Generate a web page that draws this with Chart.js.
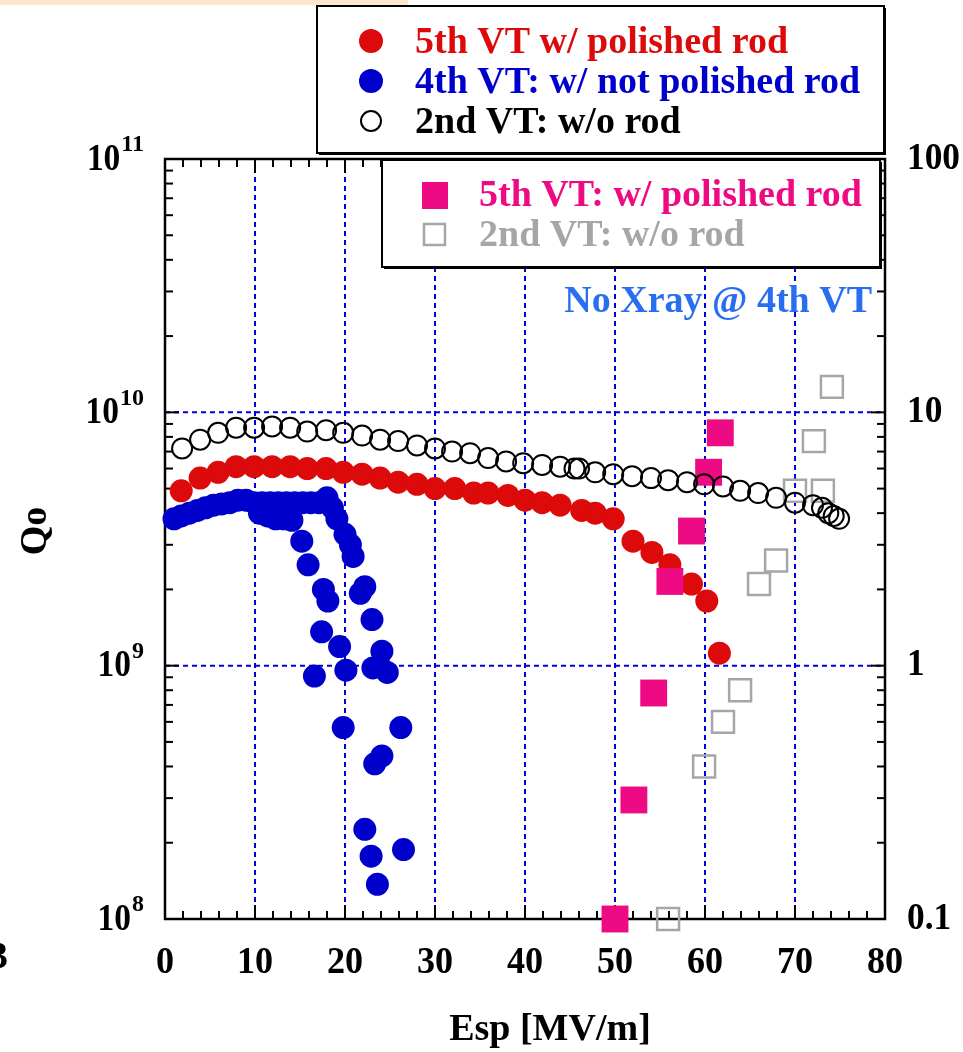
<!DOCTYPE html>
<html>
<head>
<meta charset="utf-8">
<script src="https://cdn.jsdelivr.net/npm/chart.js@4.4.1/dist/chart.umd.min.js"></script>
<style>
  html, body { margin: 0; padding: 0; background: #fff; }
  #wrap { position: relative; width: 963px; height: 1052px; }
</style>
</head>
<body>
<div id="wrap"><canvas id="chart"></canvas></div>
<script>
// values (Q0 in units of 1e9)
const vt5Esp = [1.8, 3.9, 5.9, 7.9, 9.9, 11.9, 13.9, 15.8, 17.9, 19.8, 21.9, 23.9, 25.9, 28.0, 30.0,
  32.2, 34.3, 35.9, 38.1, 40.0, 41.9, 43.9, 46.3, 47.8, 49.8, 52.0, 54.1, 56.1, 58.5, 60.2, 61.6];
const vt5Q = [4.9, 5.5, 5.8, 6.1, 6.1, 6.1, 6.1, 6.0, 6.0, 5.8, 5.7, 5.5, 5.3, 5.2, 5.0,
  5.0, 4.8, 4.8, 4.7, 4.5, 4.4, 4.3, 4.1, 4.0, 3.8, 3.1, 2.8, 2.5, 2.1, 1.8, 1.12];

const vt4Esp = [1.0, 1.8, 2.7, 3.6, 4.5, 5.4, 6.3, 7.2, 8.1, 9.0, 9.9, 10.8, 11.7, 12.6, 13.5, 14.4, 15.3, 16.2, 17.1, 18.0,
  10.5, 11.4, 12.3, 13.2, 14.1,
  15.2, 15.9, 17.6, 18.1, 17.4, 19.4, 16.6, 20.1, 19.8,
  18.6, 19.1, 20.0, 20.6, 20.9, 22.2, 21.7, 23.0, 24.1, 23.9, 24.7, 23.1, 26.2, 24.1, 23.3, 22.2, 22.9, 26.5, 23.6];
const vt4Q = [3.8, 3.9, 4.0, 4.1, 4.2, 4.3, 4.35, 4.4, 4.5, 4.5, 4.4, 4.4, 4.4, 4.4, 4.4, 4.4, 4.4, 4.4, 4.4, 4.6,
  4.0, 3.9, 3.8, 3.8, 3.75,
  3.1, 2.5, 2.0, 1.8, 1.36, 1.19, 0.91, 0.96, 0.57,
  4.2, 3.8, 3.3, 3.0, 2.7, 2.05, 1.93, 1.52, 1.14, 0.99, 0.94, 0.98, 0.57, 0.44, 0.41, 0.226, 0.177, 0.188, 0.137];

const vt2Esp = [1.9, 3.9, 5.9, 7.9, 9.9, 11.9, 13.9, 15.8, 17.9, 19.8, 21.9, 23.9, 25.9, 28.0, 30.0,
  31.9, 33.9, 35.9, 37.9, 39.8, 41.9, 43.9, 45.5, 46.0, 47.8, 49.8, 51.9, 54.0, 55.9, 58.0, 59.9,
  62.0, 63.9, 65.9, 67.9, 70.0, 72.0, 73.0, 73.7, 74.3, 74.9];
const vt2Q = [7.2, 7.8, 8.3, 8.7, 8.7, 8.8, 8.7, 8.4, 8.5, 8.3, 8.1, 7.8, 7.7, 7.4, 7.2,
  7.0, 6.9, 6.6, 6.4, 6.3, 6.2, 6.1, 6.0, 6.0, 5.8, 5.7, 5.6, 5.5, 5.4, 5.3, 5.2,
  5.1, 4.9, 4.8, 4.6, 4.4, 4.3, 4.2, 4.0, 3.9, 3.8];

// right axis series
const xr5Esp = [50.0, 52.1, 54.3, 56.1, 58.5, 60.4, 61.7];
const xr5Val = [0.1, 0.295, 0.78, 2.15, 3.4, 5.8, 8.3];
const xr2Esp = [55.9, 59.9, 62.0, 63.9, 66.0, 67.9, 70.0, 73.1, 72.1, 74.1];
const xr2Val = [0.1, 0.4, 0.6, 0.8, 2.1, 2.6, 4.9, 4.9, 7.7, 12.6];

const xTicks = [0, 10, 20, 30, 40, 50, 60, 70, 80];
const leftExps = [8, 9, 10, 11];
const rightTicks = ['0.1', '1', '10', '100'];
const gridX = [10, 20, 30, 40, 50, 60, 70];
const gridQ = [1e9, 1e10];

const RED = '#dc0a0a';
const BLUE = '#0000cc';
const PINK = '#ee0a82';
const GREY = '#a6a6a6';
const SERIF = '"Liberation Serif", "Times New Roman", serif';

function pts(xs, ys, k) {
  return xs.map((x, i) => ({ x: x, y: ys[i] * k }));
}

function txt(ctx, s, x, y, size, color, align, sx) {
  ctx.save();
  ctx.font = 'bold ' + size + 'px ' + SERIF;
  ctx.fillStyle = color;
  ctx.textAlign = align;
  ctx.textBaseline = 'middle';
  ctx.translate(x, y);
  ctx.scale(sx || 1, 1);
  ctx.fillText(s, 0, 0);
  ctx.restore();
}

function seg(ctx, x1, y1, x2, y2) {
  ctx.beginPath();
  ctx.moveTo(x1, y1);
  ctx.lineTo(x2, y2);
  ctx.stroke();
}

function box(ctx, x, y, w, h) {
  ctx.fillStyle = '#000';
  ctx.fillRect(x + 2, y + 2, w, h);
  ctx.fillStyle = '#fff';
  ctx.fillRect(x, y, w, h);
  ctx.strokeStyle = '#000';
  ctx.lineWidth = 2;
  ctx.strokeRect(x, y, w, h);
}

const decor = {
  id: 'decor',
  beforeDraw(chart) {
    const ctx = chart.ctx;
    ctx.save();
    ctx.fillStyle = '#fde6cc';
    ctx.fillRect(0, 0, 408, 5);
    ctx.restore();
  },
  beforeDatasetsDraw(chart) {
    const { ctx, chartArea: a, scales } = chart;
    const sx = scales.x, sy = scales.y, sy2 = scales.y2;
    ctx.save();
    ctx.strokeStyle = '#0000dd';
    ctx.lineWidth = 2;
    ctx.setLineDash([5, 4]);
    gridX.forEach(v => { const p = sx.getPixelForValue(v); seg(ctx, p, a.top, p, a.bottom); });
    gridQ.forEach(v => { const p = sy.getPixelForValue(v); seg(ctx, a.left, p, a.right, p); });
    ctx.setLineDash([]);

    ctx.strokeStyle = '#000';
    ctx.lineWidth = 2;
    // x ticks, top and bottom, every 2 units
    for (let v = 0; v <= 80; v += 2) {
      const p = sx.getPixelForValue(v);
      const len = v % 10 === 0 ? 14 : 8;
      seg(ctx, p, a.bottom, p, a.bottom - len);
      seg(ctx, p, a.top, p, a.top + len);
    }
    // log ticks, left and right
    for (let e = 8; e <= 11; e++) {
      for (let k = 1; k <= 9; k++) {
        const v = k * Math.pow(10, e);
        if (v > 1e11) break;
        const p = sy.getPixelForValue(v);
        const len = k === 1 ? 14 : 8;
        seg(ctx, a.left, p, a.left + len, p);
      }
    }
    for (let e = -1; e <= 2; e++) {
      for (let k = 1; k <= 9; k++) {
        const v = k * Math.pow(10, e);
        if (v > 100.0001) break;
        const p = sy2.getPixelForValue(v);
        const len = k === 1 ? 14 : 8;
        seg(ctx, a.right, p, a.right - len, p);
      }
    }
    ctx.lineWidth = 2.5;
    ctx.strokeRect(a.left, a.top, a.right - a.left, a.bottom - a.top);
    ctx.restore();
  },
  afterDatasetsDraw(chart) {
    const { ctx, chartArea: a, scales } = chart;
    const sx = scales.x, sy = scales.y, sy2 = scales.y2;
    ctx.save();
    // tick labels
    xTicks.forEach(v => txt(ctx, String(v), sx.getPixelForValue(v), 963, 38, '#000', 'center', 0.95));
    leftExps.forEach(e => {
      const p = sy.getPixelForValue(Math.pow(10, e));
      ctx.font = 'bold 24px ' + SERIF;
      const w = ctx.measureText(String(e)).width;
      txt(ctx, String(e), 144, p - 14, 24, '#000', 'right', 1);
      txt(ctx, '10', 144 - w - 1, p + 1, 38, '#000', 'right', 0.88);
    });
    rightTicks.forEach(t => txt(ctx, t, 907, sy2.getPixelForValue(parseFloat(t)), 38, '#000', 'left', 0.93));
    txt(ctx, '3', 8, 958, 38, '#000', 'right', 1);

    // axis titles
    txt(ctx, 'Esp [MV/m]', 550, 1030, 38, '#000', 'center', 1);
    ctx.save();
    ctx.translate(36, 531);
    ctx.rotate(-Math.PI / 2);
    txt(ctx, 'Qo', 0, 0, 38, '#000', 'center', 1);
    ctx.restore();

    // legend for the left axis
    box(ctx, 317, 6, 567, 147);
    const rowsL = [
      ['5th VT w/ polished rod', RED, 'fill'],
      ['4th VT: w/ not polished rod', BLUE, 'fill'],
      ['2nd VT: w/o rod', '#000', 'open']
    ];
    rowsL.forEach((r, i) => {
      const cy = 41 + i * 40;
      ctx.beginPath();
      if (r[2] === 'fill') {
        ctx.arc(371, cy, 12, 0, Math.PI * 2);
        ctx.fillStyle = r[1];
        ctx.fill();
      } else {
        ctx.arc(371, cy, 10, 0, Math.PI * 2);
        ctx.strokeStyle = '#000';
        ctx.lineWidth = 2;
        ctx.stroke();
      }
      txt(ctx, r[0], 415, cy + 2, 38, r[1], 'left', 1);
    });

    // legend for the right axis
    box(ctx, 382, 160, 498, 107);
    ctx.fillStyle = PINK;
    ctx.fillRect(422, 182, 26, 27);
    txt(ctx, '5th VT: w/ polished rod', 479, 196, 38, PINK, 'left', 1);
    ctx.strokeStyle = GREY;
    ctx.lineWidth = 2.5;
    ctx.strokeRect(424, 224, 21, 21);
    txt(ctx, '2nd VT: w/o rod', 479, 236, 38, GREY, 'left', 1);

    txt(ctx, 'No Xray @ 4th VT', 872, 302, 38, '#2a6ef0', 'right', 1);
    ctx.restore();
  }
};

const ctxEl = document.getElementById('chart');
new Chart(ctxEl, {
  type: 'scatter',
  data: {
    datasets: [
      { label: '2nd VT: w/o rod', data: pts(vt2Esp, vt2Q, 1e9), yAxisID: 'y', order: 0,
        pointStyle: 'circle', pointRadius: 10, backgroundColor: 'rgba(0,0,0,0)', borderColor: '#000', borderWidth: 2, clip: false },
      { label: '5th VT: w/ polished rod (right)', data: pts(xr5Esp, xr5Val, 1), yAxisID: 'y2', order: 1,
        pointStyle: 'rect', pointRadius: 19, backgroundColor: PINK, borderColor: PINK, borderWidth: 0, clip: false },
      { label: '2nd VT: w/o rod (right)', data: pts(xr2Esp, xr2Val, 1), yAxisID: 'y2', order: 2,
        pointStyle: 'rect', pointRadius: 15.5, backgroundColor: 'rgba(0,0,0,0)', borderColor: GREY, borderWidth: 2.5, clip: false },
      { label: '5th VT w/ polished rod', data: pts(vt5Esp, vt5Q, 1e9), yAxisID: 'y', order: 3,
        pointStyle: 'circle', pointRadius: 11.5, backgroundColor: RED, borderColor: RED, borderWidth: 0, clip: false },
      { label: '4th VT: w/ not polished rod', data: pts(vt4Esp, vt4Q, 1e9), yAxisID: 'y', order: 4,
        pointStyle: 'circle', pointRadius: 11.5, backgroundColor: BLUE, borderColor: BLUE, borderWidth: 0, clip: false }
    ]
  },
  options: {
    responsive: true,
    maintainAspectRatio: false,
    animation: false,
    events: [],
    layout: { padding: { top: 159, left: 0, right: 0, bottom: 0 } },
    plugins: { legend: { display: false }, tooltip: { enabled: false } },
    scales: {
      x: {
        type: 'linear', min: 0, max: 80,
        ticks: { display: false }, grid: { display: false }, border: { display: false },
        afterFit: s => { s.height = 133; }
      },
      y: {
        type: 'logarithmic', position: 'left', min: 1e8, max: 1e11,
        ticks: { display: false }, grid: { display: false }, border: { display: false },
        afterFit: s => { s.width = 165; }
      },
      y2: {
        type: 'logarithmic', position: 'right', min: 0.1, max: 100,
        ticks: { display: false }, grid: { display: false }, border: { display: false },
        afterFit: s => { s.width = 78; }
      }
    }
  },
  plugins: [decor]
});
</script>
</body>
</html>
